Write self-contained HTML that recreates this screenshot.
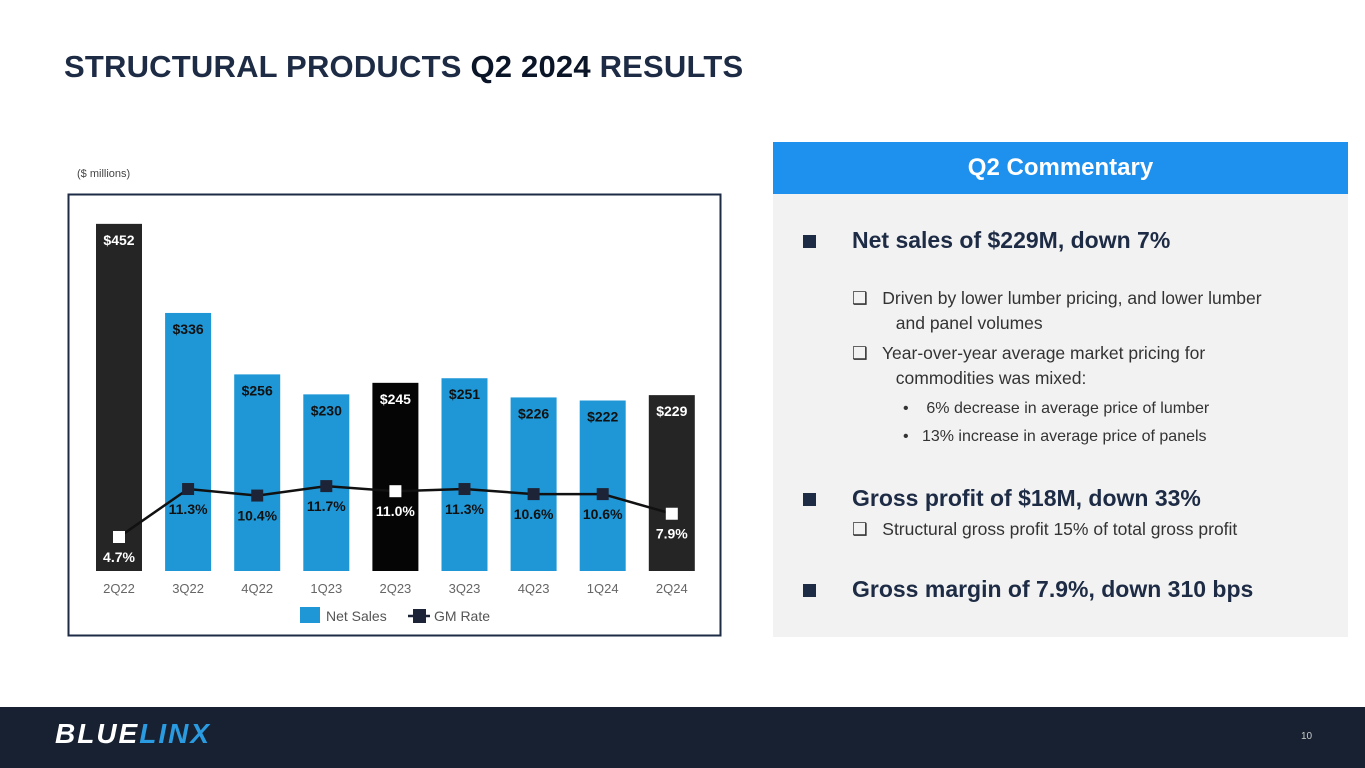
<!DOCTYPE html>
<html><head><meta charset="utf-8"><style>
body{margin:0;width:1365px;height:768px;position:relative;background:#fff;font-family:"Liberation Sans",sans-serif;overflow:hidden}
.abs{position:absolute}
.title{left:64px;top:49px;font-size:31px;font-weight:bold;color:#1d2b45;letter-spacing:0.2px}
.panel{left:773px;top:142px;width:575px;height:495px;background:#f2f2f2}
.ph{left:773px;top:142px;width:575px;height:52px;background:#1e90ee;color:#fff;font-size:24px;font-weight:bold;text-align:center;line-height:52px}
.b1{font-size:23px;font-weight:bold;color:#1d2b45}
.sq{display:inline-block;width:13px;height:13px;background:#1d2b45}
.t{font-size:17.5px;color:#333}
.footer{left:0;top:707px;width:1365px;height:61px;background:#172131}
</style></head><body>
<div class="abs title">STRUCTURAL PRODUCTS <span style="color:#0b1528">Q2 2024</span> RESULTS</div>
<div class="abs" style="left:77px;top:168px;font-size:11px;color:#444">($ millions)</div>
<svg class="abs" style="left:0;top:0" width="760" height="700" id="chart">
<rect x="68.5" y="194.5" width="652" height="441" fill="#fff" stroke="#1d2b45" stroke-width="2"/>
</svg>
<div class="abs panel"></div>
<div class="abs ph">Q2 Commentary</div>
<div class="abs" style="left:803px;top:227px"><span class="sq"></span><span class="b1" style="margin-left:36px">Net sales of $229M, down 7%</span></div>
<div class="abs t" style="left:852px;top:286px;line-height:25px">❑&nbsp;&nbsp; Driven by lower lumber pricing, and lower lumber<br>&nbsp;&nbsp;&nbsp;&nbsp;&nbsp;&nbsp;&nbsp;&nbsp;&nbsp;and panel volumes</div>
<div class="abs t" style="left:852px;top:341px;line-height:25px">❑&nbsp;&nbsp; Year-over-year average market pricing for<br>&nbsp;&nbsp;&nbsp;&nbsp;&nbsp;&nbsp;&nbsp;&nbsp;&nbsp;commodities was mixed:</div>
<div class="abs" style="left:903px;top:395px;font-size:16px;color:#333;line-height:28px">•&nbsp;&nbsp;&nbsp;&nbsp;6% decrease in average price of lumber<br>•&nbsp;&nbsp;&nbsp;13% increase in average price of panels</div>
<div class="abs" style="left:803px;top:485px"><span class="sq"></span><span class="b1" style="margin-left:36px">Gross profit of $18M, down 33%</span></div>
<div class="abs t" style="left:852px;top:519px">❑&nbsp;&nbsp; Structural gross profit 15% of total gross profit</div>
<div class="abs" style="left:803px;top:576px"><span class="sq"></span><span class="b1" style="margin-left:36px">Gross margin of 7.9%, down 310 bps</span></div>
<div class="abs footer"></div>
<div class="abs" style="left:55px;top:718px;font-size:28px;font-weight:900;font-style:italic;letter-spacing:2px"><span style="color:#fff">BLUE</span><span style="color:#2a9be0">LINX</span></div>
<div class="abs" style="left:1301px;top:731px;font-size:10px;color:#ccc">10</div>
<script>
const categories=["2Q22","3Q22","4Q22","1Q23","2Q23","3Q23","4Q23","1Q24","2Q24"];
const netSales=[452,336,256,230,245,251,226,222,229];
const gmRate=[4.7,11.3,10.4,11.7,11.0,11.3,10.6,10.6,7.9];
const salesLabels=["$452","$336","$256","$230","$245","$251","$226","$222","$229"];
const gmLabels=["4.7%","11.3%","10.4%","11.7%","11.0%","11.3%","10.6%","10.6%","7.9%"];
const highlight=[1,0,0,0,2,0,0,0,1];
const NS="http://www.w3.org/2000/svg";
const svg=document.getElementById('chart');
const x=i=>119+i*69.1;
const yS=v=>571-v*0.768;
const yG=v=>537-(v-4.7)*7.27;
function mk(t,a){const e=document.createElementNS(NS,t);for(const k in a)e.setAttribute(k,a[k]);svg.appendChild(e);return e;}
const colors=["#1f97d6","#252525","#050505"];
categories.forEach((c,i)=>{
  const r=mk('rect',{x:x(i)-23,y:yS(netSales[i]),width:46,height:571-yS(netSales[i]),fill:colors[highlight[i]]});
  
  
  const t=mk('text',{x:x(i),y:yS(netSales[i])+21,'text-anchor':'middle','font-size':14,'font-weight':'bold',fill:highlight[i]?'#fff':'#111'});
  t.textContent=salesLabels[i];
  
  
  const l=mk('text',{x:x(i),y:593,'text-anchor':'middle','font-size':13,fill:'#666'});
  l.textContent=c;
  
  
});
const pl=mk('polyline',{points:gmRate.map((v,i)=>x(i)+','+yG(v)).join(' '),fill:'none',stroke:'#111',"stroke-width":2.5});


gmRate.forEach((v,i)=>{
  const m=mk('rect',{x:x(i)-6,y:yG(v)-6,width:12,height:12,fill:highlight[i]?'#fff':'#1d2438'});
  
  
  const t=mk('text',{x:x(i),y:yG(v)+25,'text-anchor':'middle','font-size':14,'font-weight':'bold',fill:highlight[i]?'#fff':'#111'});
  t.textContent=gmLabels[i];
  
  
});
const lg1=mk('rect',{x:300,y:607,width:20,height:16,fill:'#1f97d6'});


const lt1=mk('text',{x:326,y:621,'font-size':14,fill:'#555'});lt1.textContent='Net Sales';


const ll=mk('line',{x1:408,y1:616,x2:430,y2:616,stroke:'#1d2438','stroke-width':2.5});


const lm=mk('rect',{x:413,y:609,width:13,height:14,fill:'#1d2438'});


const lt2=mk('text',{x:434,y:621,'font-size':14,fill:'#555'});lt2.textContent='GM Rate';


</script>
</body></html>
